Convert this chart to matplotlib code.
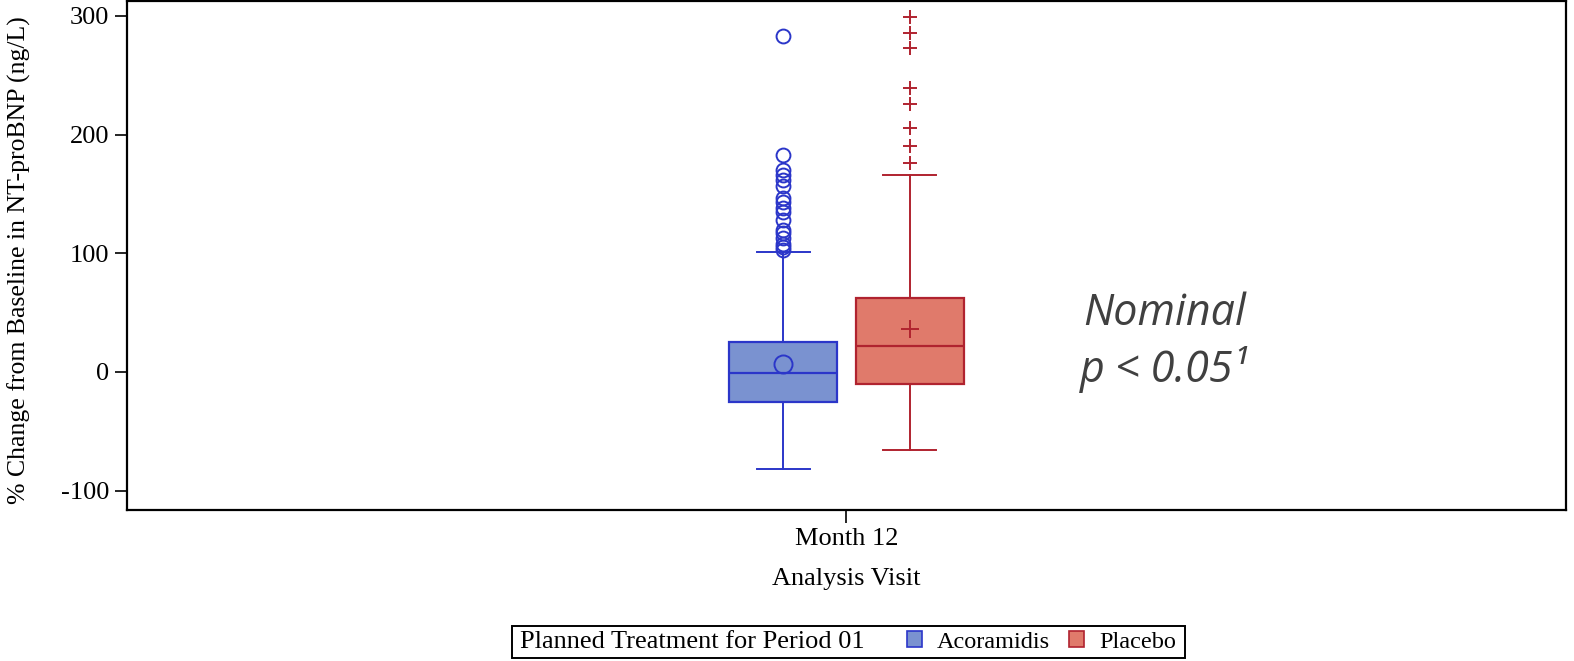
import matplotlib
matplotlib.use("Agg")
import matplotlib.pyplot as plt
from matplotlib.patches import Patch, Rectangle

# summary statistics (% change from baseline)
groups = ['Acoramidis', 'Placebo']
q1 = [-25, -10]
medians = [-1, 22]
q3 = [25, 62]
whislo = [-82, -66]
whishi = [101, 166]
means = [7, 36]
fliers_acor = [103, 105, 108, 113, 117, 120, 128, 135, 138, 143, 147, 157,
               162, 166, 170, 183, 283]
fliers_plac = [176, 190, 206, 226, 239, 273, 286, 299]
fliers = [fliers_acor, fliers_plac]

visit_labels = ['Month 12']
yticks = [-100, 0, 100, 200, 300]

edge_colors = ['#2B36C9', '#B0232F']
fill_colors = ['#7A92D0', '#E07A6B']
mean_markers = ['o', '+']

plt.rcParams['font.family'] = ['Liberation Serif']
plt.rcParams['axes.unicode_minus'] = False
fs = 19

fig = plt.figure(figsize=(15.74, 6.61), dpi=100)
ax = fig.add_axes([0.0807, 0.2284, 0.9142, 0.7701])

offsets = [-0.044, 0.044]
for i, g in enumerate(groups):
    stats = [dict(label=g, q1=q1[i], med=medians[i], q3=q3[i],
                  whislo=whislo[i], whishi=whishi[i], mean=means[i],
                  fliers=fliers[i])]
    ec = edge_colors[i]
    mk = mean_markers[i]
    ax.bxp(stats, positions=[0.5 + offsets[i]], widths=0.075,
           patch_artist=True, showmeans=True, manage_ticks=False,
           boxprops=dict(facecolor=fill_colors[i], edgecolor=ec, linewidth=1.6),
           medianprops=dict(color=ec, linewidth=1.6),
           whiskerprops=dict(color=ec, linewidth=1.4),
           capprops=dict(color=ec, linewidth=1.4),
           capwidths=0.037,
           flierprops=dict(marker=mk, markeredgecolor=ec, markerfacecolor='none',
                           markersize=10, markeredgewidth=1.4, linestyle='none'),
           meanprops=dict(marker=mk, markeredgecolor=ec, markerfacecolor='none',
                          markersize=13, markeredgewidth=1.4))

ax.set_xlim(0, 1)
ax.set_ylim(-116.3, 312.6)
ax.set_xticks([0.5])
ax.set_xticklabels(visit_labels, fontsize=fs)
ax.set_yticks(yticks)
ax.set_yticklabels([str(t) for t in yticks], fontsize=fs)
ax.tick_params(axis='both', direction='out', length=9, width=1.2, pad=4)
for s in ax.spines.values():
    s.set_linewidth(1.6)

ax.set_xlabel('Analysis Visit', fontsize=fs, labelpad=13)
ax.set_ylabel('% Change from Baseline in NT-proBNP (ng/L)', fontsize=18.5)
ax.yaxis.set_label_coords(-0.0665, 0.49)

ax.text(0.721, 25, 'Nominal\np < 0.05\u00b9', ha='center', va='center',
        fontsize=31, family='Open Sans', style='italic', color='#404040',
        linespacing=1.3)

# legend: title text, entries and a frame around them
fig.text(520 / 1574, 1 - 642 / 661, 'Planned Treatment for Period 01',
         fontsize=fs, ha='left', va='center')
handles = [Patch(facecolor=fill_colors[i], edgecolor=edge_colors[i], linewidth=1.2)
           for i in range(len(groups))]
fig.legend(handles, groups, loc='center left',
           bbox_to_anchor=(907 / 1574, 1 - 642 / 661), ncol=2, frameon=False,
           fontsize=17.5, handlelength=0.62, handleheight=0.62,
           handletextpad=0.6, columnspacing=0.8, borderpad=0, borderaxespad=0)
fig.patches.append(Rectangle((512 / 1574, 1 - 658 / 661), 673 / 1574, 32 / 661,
                             transform=fig.transFigure, fill=False,
                             edgecolor='black', linewidth=1.4))

fig.savefig('out.png', dpi=100)
